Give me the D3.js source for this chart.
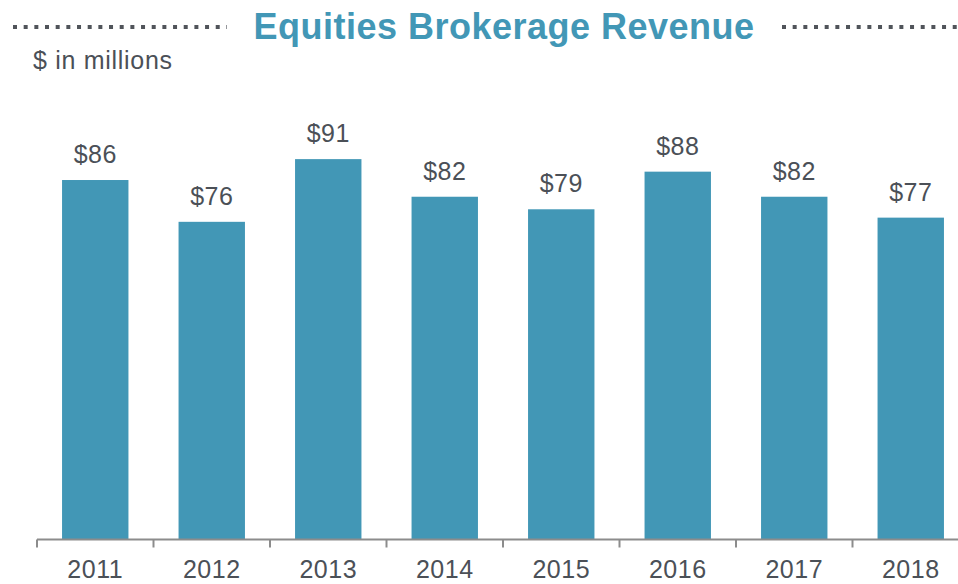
<!DOCTYPE html>
<html>
<head>
<meta charset="utf-8">
<script src="https://cdn.jsdelivr.net/npm/d3@7"></script>
<style>
  body { margin: 0; background: #fff; }
  svg { display: block; font-family: "Liberation Sans", Arial, Helvetica, sans-serif; }
</style>
</head>
<body>
<div id="chart"></div>
<script>
//* data
var years = ["2011", "2012", "2013", "2014", "2015", "2016", "2017", "2018"]
var revenue = [86, 76, 91, 82, 79, 88, 82, 77]
var valueLabels = ["$86", "$76", "$91", "$82", "$79", "$88", "$82", "$77"]
var titleText = "Equities Brokerage Revenue"
var subtitleText = "$ in millions"

var width = 958, height = 584
var teal = "#4297b6", textGrey = "#4b5057", axisGrey = "#8c8c8c"
var baseY = 539.5

var svg = d3.select("#chart")
  .append("svg")
    .attr("width", width)
    .attr("height", height)

//* scales
var x = d3.scaleBand()
  .domain(years)
  .range([37, 969])
  .paddingInner(0.43)
  .paddingOuter(0.215)

var y = d3.scaleLinear()
  .domain([0, 100])
  .range([baseY, baseY - 418])

//* title + dotted rules
svg.append("text")
  .attr("x", 504)
  .attr("y", 39)
  .attr("text-anchor", "middle")
  .attr("font-size", "36px")
  .attr("font-weight", "bold")
  .attr("letter-spacing", "0.5px")
  .attr("fill", teal)
  .text(titleText)

svg.selectAll("line.rule")
  .data([[13, 227], [782, 960]])
  .enter()
  .append("line")
    .attr("class", "rule")
    .attr("x1", function(d){ return d[0] })
    .attr("x2", function(d){ return d[1] })
    .attr("y1", 27)
    .attr("y2", 27)
    .attr("stroke", "#50545a")
    .attr("stroke-width", 4)
    .attr("stroke-dasharray", "4 6.67")

svg.append("text")
  .attr("x", 33)
  .attr("y", 69)
  .attr("font-size", "25px")
  .attr("letter-spacing", "0.7px")
  .attr("fill", textGrey)
  .text(subtitleText)

//* bars
svg.selectAll("rect.bar")
  .data(revenue)
  .enter()
  .append("rect")
    .attr("class", "bar")
    .attr("x", function(d, i){ return x(years[i]) })
    .attr("y", function(d){ return y(d) })
    .attr("width", x.bandwidth())
    .attr("height", function(d){ return baseY - y(d) })
    .attr("fill", teal)

//* value labels
svg.selectAll("text.val")
  .data(revenue)
  .enter()
  .append("text")
    .attr("class", "val")
    .attr("x", function(d, i){ return x(years[i]) + x.bandwidth() / 2 })
    .attr("y", function(d){ return y(d) - 17 })
    .attr("text-anchor", "middle")
    .attr("font-size", "25px")
    .attr("letter-spacing", "0.5px")
    .attr("fill", textGrey)
    .text(function(d, i){ return valueLabels[i] })

//* axis: line + ticks at band boundaries
svg.append("line")
  .attr("x1", x.range()[0])
  .attr("x2", x.range()[1])
  .attr("y1", baseY)
  .attr("y2", baseY)
  .attr("stroke", axisGrey)
  .attr("stroke-width", 2)

var step = x.step()
svg.selectAll("line.tick")
  .data(d3.range(years.length + 1))
  .enter()
  .append("line")
    .attr("class", "tick")
    .attr("x1", function(i){ return x.range()[0] + i * step })
    .attr("x2", function(i){ return x.range()[0] + i * step })
    .attr("y1", baseY)
    .attr("y2", baseY + 8)
    .attr("stroke", axisGrey)
    .attr("stroke-width", 2)

svg.selectAll("text.year")
  .data(years)
  .enter()
  .append("text")
    .attr("class", "year")
    .attr("x", function(d){ return x(d) + x.bandwidth() / 2 })
    .attr("y", 578)
    .attr("text-anchor", "middle")
    .attr("font-size", "25px")
    .attr("letter-spacing", "0.5px")
    .attr("fill", textGrey)
    .text(function(d){ return d })
</script>
</body>
</html>
